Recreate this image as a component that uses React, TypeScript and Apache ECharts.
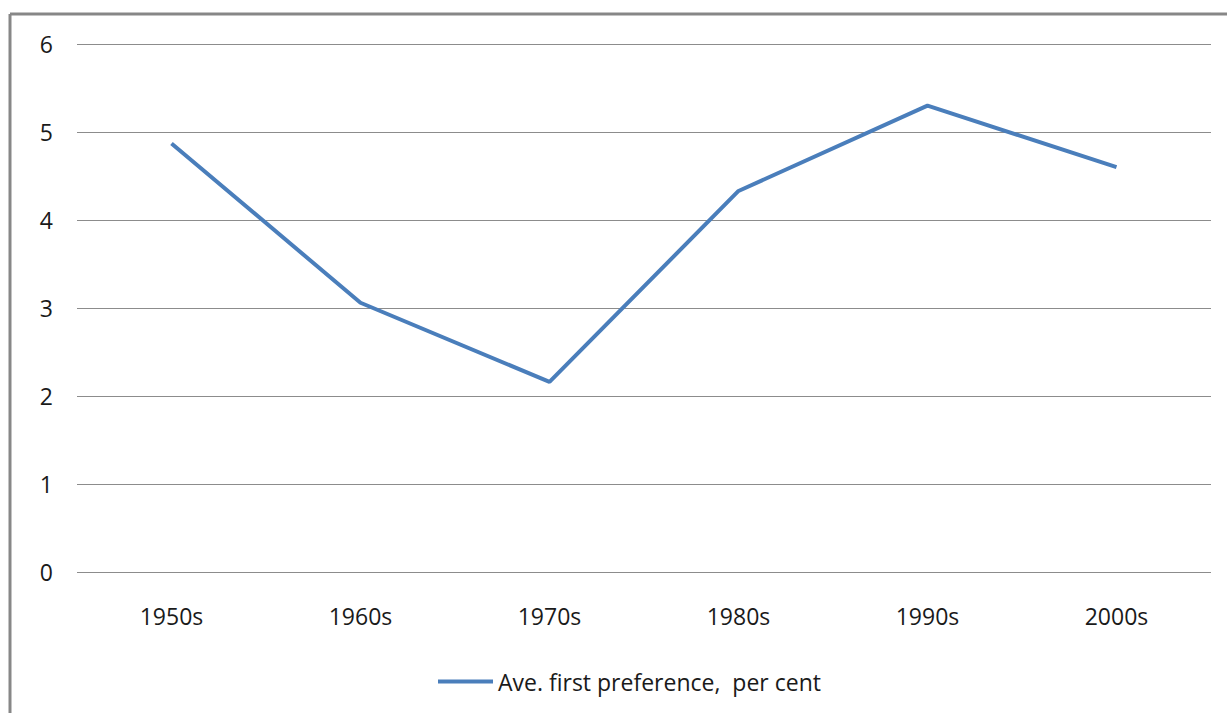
import React, { useEffect, useRef } from "react";
import * as echarts from "echarts";

const categories = ["1950s", "1960s", "1970s", "1980s", "1990s", "2000s"];
const values = [4.87, 3.06, 2.16, 4.33, 5.3, 4.6];
const seriesName = "Ave. first preference,  per cent";

export default function App() {
  const ref = useRef<HTMLDivElement>(null);
  useEffect(() => {
    document.body.style.margin = "0";
    const chart = echarts.init(ref.current!, null, { renderer: "svg" });
    const font = "'Open Sans', 'DejaVu Sans', sans-serif";
    chart.setOption({
      animation: false,
      backgroundColor: "#ffffff",
      grid: { left: 77, right: 16, top: 44, bottom: 141 },
      xAxis: {
        type: "category",
        data: categories,
        boundaryGap: true,
        axisLine: { show: false },
        axisTick: { show: false },
        axisLabel: { color: "#1a1a1a", fontSize: 23, fontFamily: font, margin: 32 },
      },
      yAxis: {
        type: "value",
        min: 0,
        max: 6,
        interval: 1,
        axisLine: { show: false },
        axisTick: { show: false },
        axisLabel: { color: "#1a1a1a", fontSize: 23, fontFamily: font, margin: 24 },
        splitLine: { lineStyle: { color: "#8c8c8c", width: 1 } },
      },
      legend: {
        left: 438,
        top: 670,
        padding: 0,
        icon: "rect",
        itemWidth: 55,
        itemHeight: 4,
        itemGap: 10,
        textStyle: { color: "#1a1a1a", fontSize: 23, fontFamily: font, padding: [0, 0, 0, 0] },
        data: [seriesName],
      },
      series: [
        {
          name: seriesName,
          type: "line",
          data: values,
          symbol: "none",
          lineStyle: { color: "#4A7EBB", width: 4 },
          itemStyle: { color: "#4A7EBB" },
        },
      ],
      graphic: [
        { type: "line", shape: { x1: 10, y1: 14, x2: 1227, y2: 14 }, style: { stroke: "#878787", lineWidth: 3 } },
        { type: "line", shape: { x1: 10, y1: 14, x2: 10, y2: 713 }, style: { stroke: "#878787", lineWidth: 3 } },
      ],
    });
    return () => chart.dispose();
  }, []);
  return <div ref={ref} style={{ width: 1227, height: 713 }} />;
}
